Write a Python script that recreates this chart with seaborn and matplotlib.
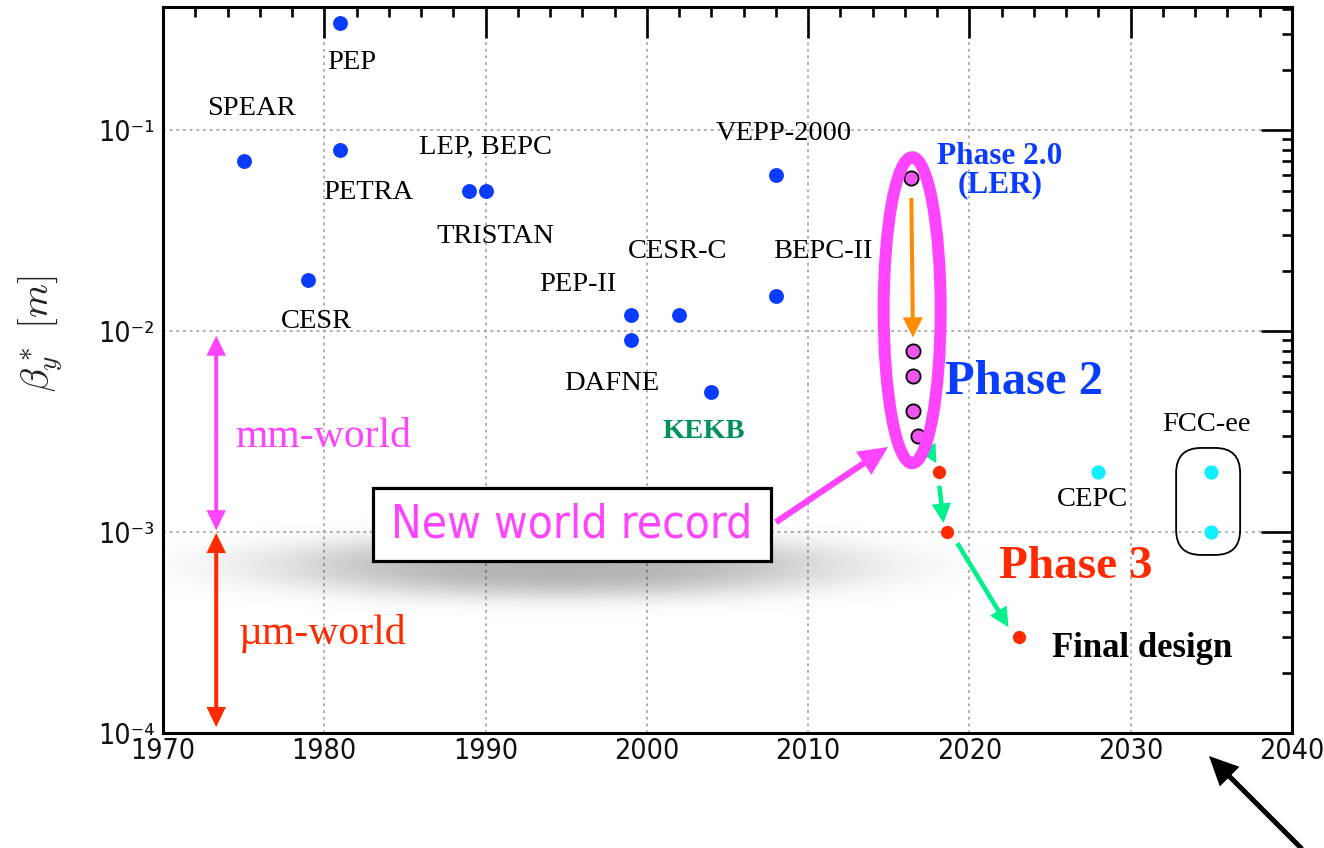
import numpy as np
import pandas as pd
import matplotlib
matplotlib.use("Agg")
import matplotlib.pyplot as plt
import seaborn as sns
from matplotlib import font_manager as fm
from matplotlib.font_manager import FontProperties
from matplotlib.patches import Ellipse, FancyBboxPatch, Rectangle
from matplotlib.ticker import MultipleLocator, LogLocator, FuncFormatter, NullFormatter

# ---------------- data ----------------
past_year = [1975, 1981, 1981, 1979, 1989, 1990, 1999, 1999, 2002, 2004, 2008, 2008]
past_beta = [0.070, 0.34, 0.080, 0.018, 0.050, 0.050, 0.012, 0.009, 0.012, 0.005, 0.060, 0.015]

phase2_year = [2016.4, 2016.5, 2016.5, 2016.5, 2016.8]
phase2_beta = [0.058, 0.008, 0.006, 0.004, 0.003]

phase3_year = [2018.1, 2018.6, 2023.1]
phase3_beta = [0.002, 0.001, 0.0003]

future_year = [2028, 2035, 2035]
future_beta = [0.002, 0.002, 0.001]

machine_labels = ["PEP", "SPEAR", "PETRA", "LEP, BEPC", "TRISTAN", "CESR", "PEP-II",
                  "CESR-C", "VEPP-2000", "BEPC-II", "DAFNE", "CEPC", "FCC-ee"]
machine_label_x = [1981.7, 1975.5, 1982.7, 1990.0, 1990.6, 1979.5, 1995.7,
                   2001.9, 2008.5, 2010.9, 1997.8, 2027.6, 2034.7]
machine_label_y = [0.218, 0.1285, 0.0492, 0.0822, 0.0297, 0.0112, 0.0171,
                   0.025, 0.0966, 0.025, 0.0055, 0.00146, 0.00344]

x_ticks = [1970, 1980, 1990, 2000, 2010, 2020, 2030, 2040]
SUP = str.maketrans("-0123456789", "\u207b\u2070\u00b9\u00b2\u00b3\u2074\u2075\u2076\u2077\u2078\u2079")

# ---------------- style ----------------
sns.set_style("white")
SERIF = "Liberation Serif"
plt.rcParams["font.family"] = [SERIF, "DejaVu Sans"]

cond_path = None
for key in ("LiberationSansNarrow-Regular", "DejaVuSansCondensed.ttf", "Condensed-Regular",
            "Narrow-Regular"):
    hits = [f.fname for f in fm.fontManager.ttflist if key in f.fname]
    if hits:
        cond_path = hits[0]
        break
if cond_path:
    tick_fp = FontProperties(fname=cond_path, size=20.5)
    rec_fp = FontProperties(fname=cond_path, size=33)
else:
    tick_fp = FontProperties(family=["Liberation Sans", "DejaVu Sans"], size=19)
    rec_fp = FontProperties(family=["Liberation Sans", "DejaVu Sans"], size=32)

BLUE = "#0a3cff"
MAG = "#ff44ff"
MAGPT = "#ee55ee"
RED = "#ff2a00"
CYAN = "#10eeff"
GREEN = "#00f08c"
ORANGE = "#ff8c00"
KGREEN = "#00915a"

W, H = 1324, 848
fig = plt.figure(figsize=(W / 100, H / 100), dpi=100)
ax = fig.add_axes([163 / W, (H - 733) / H, 1129 / W, 726 / H])
ax.set_yscale("log")
ax.set_xlim(1970, 2040)
ax.set_ylim(1e-4, 0.41)

# ---------------- points ----------------
sns.scatterplot(x=past_year, y=past_beta, color=BLUE, s=115, linewidth=0, ax=ax, zorder=5)
sns.scatterplot(x=phase3_year, y=phase3_beta, color=RED, s=90, linewidth=0, ax=ax, zorder=5)
sns.scatterplot(x=future_year, y=future_beta, color=CYAN, s=105, linewidth=0, ax=ax, zorder=5)
sns.scatterplot(x=phase2_year, y=phase2_beta, color=MAGPT, s=105, edgecolor="black",
                linewidth=1.3, ax=ax, zorder=5)

# ---------------- axes styling ----------------
for sp in ax.spines.values():
    sp.set_linewidth(2.2)
    sp.set_color("black")
ax.set_xticks(x_ticks)
ax.xaxis.set_minor_locator(MultipleLocator(2))
ax.xaxis.set_major_formatter(FuncFormatter(lambda v, p: "%d" % round(v)))
ax.yaxis.set_major_locator(LogLocator(base=10, numticks=10))
ax.yaxis.set_minor_locator(LogLocator(base=10, subs=np.arange(2, 10), numticks=20))
ax.yaxis.set_major_formatter(FuncFormatter(
    lambda v, p: "10" + ("%d" % int(round(np.log10(v)))).translate(SUP)))
ax.yaxis.set_minor_formatter(NullFormatter())
ax.tick_params(which="both", direction="in", top=True, right=True, colors="black")
ax.tick_params(which="major", length=22, width=1.9, labelcolor="#111111")
ax.tick_params(which="minor", length=7.5, width=1.9)
ax.tick_params(axis="x", which="major", pad=3)
ax.tick_params(axis="y", which="major", pad=6)
ax.grid(True, which="major", color="#a8a8a8", linestyle=(0, (1.5, 2.2)), linewidth=1.3)
ax.set_axisbelow(True)
ax.set_xlabel("")
ax.set_ylabel(r"$\beta^*_y\ [m]$", fontsize=28, math_fontfamily="cm", color="#222222")
ax.yaxis.set_label_coords(-0.086, 0.55)

to_ax = ax.transData + ax.transAxes.inverted()
AXW, AXH = 1129.0, 726.0

# ---------------- shadow under the box ----------------
sh_x0, sh_x1, sh_top, sh_bot = 90, 1030, 510, 670   # pixel window
xx = np.arange(sh_x0, sh_x1)
yy = np.arange(sh_top, sh_bot)
X, Y = np.meshgrid(xx, yy)
r = np.sqrt(((X - 560) / 285.0) ** 2 + ((Y - 566) / 32.0) ** 2)
alpha = 0.3 * np.exp(-r ** 3)
rgba = np.zeros(X.shape + (4,))
rgba[..., 3] = alpha
ax.imshow(rgba, extent=[(sh_x0 - 163) / AXW, (sh_x1 - 163) / AXW,
                        (733 - sh_bot) / AXH, (733 - sh_top) / AXH],
          transform=ax.transAxes, aspect="auto", interpolation="bilinear", zorder=1)
ax.set_xlim(1970, 2040)
ax.set_ylim(1e-4, 0.41)

# ---------------- arrows ----------------
def arrow(start, end, color, hl, hw, tw, zorder=4, coords="data"):
    ax.annotate("", xy=end, xytext=start, xycoords=coords, textcoords=coords,
                arrowprops=dict(arrowstyle=f"simple,head_length={hl},head_width={hw},tail_width={tw}",
                                color=color, lw=0, shrinkA=0, shrinkB=0, mutation_scale=1),
                zorder=zorder, annotation_clip=False)

# mm-world / um-world double arrows
mm_top, mm_bot, um_bot, xw = 0.0095, 0.00102, 1.07e-4, 1973.3
mid1 = np.sqrt(mm_top * mm_bot)
arrow((xw, mid1), (xw, mm_top), MAG, 14.5, 14, 2.9)
arrow((xw, mid1), (xw, mm_bot), MAG, 14.5, 14, 2.9)
mid2 = np.sqrt(0.00099 * um_bot)
arrow((xw, mid2), (xw, 0.00099), RED, 14.5, 14, 2.9)
arrow((xw, mid2), (xw, um_bot), RED, 14.5, 14, 2.9)

# orange arrow
arrow((2016.4, 0.046), (2016.5, 0.0093), ORANGE, 14.5, 14.5, 2.9)
# green arrows
arrow((2017.2, 0.0028), (2017.95, 0.0022), GREEN, 13, 13.5, 3.3)
arrow((2018.14, 0.0017), (2018.39, 0.00111), GREEN, 14, 14, 3.3)
arrow((2019.25, 0.00088), (2022.42, 0.000336), GREEN, 14, 14, 3.3)
# magenta arrow from box to ellipse
arrow((2008.0, 0.00112), (2014.95, 0.00265), MAG, 21, 20, 4.5, zorder=6)
# black arrow outside the axes
arrow((1302 / W, 1 - 849 / H), (1209 / W, 1 - 756 / H), "black", 21, 20, 3.6,
      coords="figure fraction")

# ---------------- ellipse around Phase 2 ----------------
ec = to_ax.transform((2016.45, 0.0127))
ax.add_patch(Ellipse(ec, 57 / AXW, 306 / AXH, transform=ax.transAxes, fill=False,
                     edgecolor=MAG, linewidth=8.6, zorder=7))

# ---------------- FCC-ee rounded box ----------------
fc = to_ax.transform((2034.8, 0.00142))
bw, bh = 64 / AXW, 107 / AXH
ax.add_patch(FancyBboxPatch((fc[0] - bw / 2, fc[1] - bh / 2), bw, bh,
                            boxstyle=f"round,pad=0,rounding_size={25 / AXW}",
                            mutation_aspect=AXW / AXH, transform=ax.transAxes,
                            fill=False, edgecolor="black", linewidth=1.3, zorder=4))

# ---------------- "New world record" box ----------------
nc = to_ax.transform((1995.36, 0.00109))
rw, rh = 398 / AXW, 73 / AXH
ax.add_patch(Rectangle((nc[0] - rw / 2, nc[1] - rh / 2), rw, rh, transform=ax.transAxes,
                       facecolor="white", edgecolor="black", linewidth=2.3, zorder=8))
ax.text(1995.36, 0.00109, "New world record", ha="center", va="center",
        fontproperties=rec_fp, color=MAG, zorder=9)

# ---------------- text labels ----------------
for t, x, y in zip(machine_labels, machine_label_x, machine_label_y):
    ax.text(x, y, t, ha="center", va="center", fontsize=20.5, family=SERIF,
            color="black", zorder=6)

ax.text(2003.5, 0.00315, "KEKB", ha="center", va="center", fontsize=20.5, family=SERIF,
        weight="bold", color=KGREEN, zorder=6)
ax.text(2021.9, 0.063, "Phase 2.0\n(LER)", ha="center", va="center", fontsize=22.5,
        family=SERIF, weight="bold", color=BLUE, linespacing=0.95, zorder=6)
ax.text(2023.4, 0.00557, "Phase 2", ha="center", va="center", fontsize=35,
        family=SERIF, weight="bold", color=BLUE, zorder=6)
ax.text(2026.6, 0.00067, "Phase 3", ha="center", va="center", fontsize=34,
        family=SERIF, weight="bold", color=RED, zorder=6)
ax.text(2030.7, 0.000262, "Final design", ha="center", va="center", fontsize=25,
        family=SERIF, weight="bold", color="black", zorder=6)
ax.text(1979.9, 0.00297, "mm-world", ha="center", va="center", fontsize=30,
        family=SERIF, color=MAG, zorder=6)
ax.text(1979.9, 0.000314, "\u00b5m-world", ha="center", va="center", fontsize=30,
        family=SERIF, color=RED, zorder=6)

for lbl in ax.get_xticklabels() + ax.get_yticklabels():
    lbl.set_fontproperties(tick_fp)

fig.savefig("out.png", dpi=100)
